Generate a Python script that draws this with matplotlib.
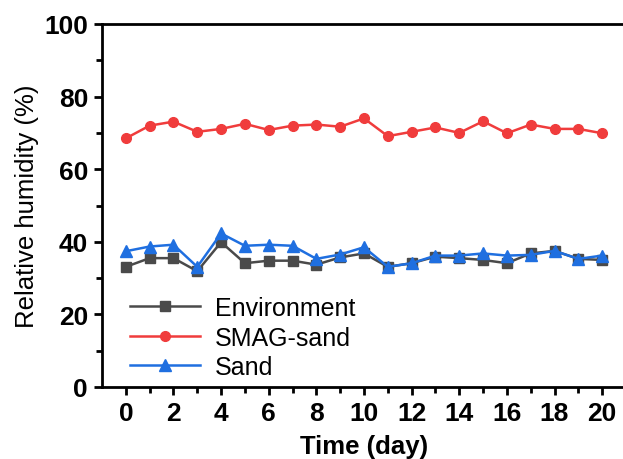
import numpy as np
import matplotlib.pyplot as plt

plt.rcParams['font.family'] = ['Liberation Sans', 'DejaVu Sans']

# Data
days = np.arange(0, 21)
env = [33.1, 35.5, 35.5, 31.9, 39.9, 34.1, 34.8, 34.8, 33.7, 35.7, 36.8,
       33.1, 34.1, 35.9, 35.5, 35.0, 34.1, 36.8, 37.5, 35.3, 35.0]
smag = [68.5, 72.0, 73.1, 70.3, 71.1, 72.5, 70.8, 72.0, 72.3, 71.7, 74.0,
        69.1, 70.3, 71.5, 70.0, 73.2, 69.9, 72.3, 71.1, 71.1, 69.9]
sand = [37.4, 38.7, 39.2, 33.1, 42.3, 38.9, 39.2, 38.9, 35.3, 36.5, 38.5,
        33.1, 34.1, 36.2, 36.2, 36.8, 36.2, 36.4, 37.5, 35.3, 36.2]

fig = plt.figure(figsize=(6.23, 4.60), dpi=100)
ax = fig.add_axes([102/623, 1 - 388/460, (626-102)/623, (388-25)/460])

ax.plot(days, env, color='#4a4a4a', marker='s', markersize=6.5, lw=1.8, label='Environment')
ax.plot(days, smag, color='#f03c3c', marker='o', markersize=7, lw=1.8, label='SMAG-sand')
ax.plot(days, sand, color='#1f6fe0', marker='^', markersize=8, lw=1.8, label='Sand')

ax.set_xlim(-1, 21)
ax.set_ylim(0, 100)
ax.set_xticks(np.arange(0, 21, 2))
ax.set_xticks(np.arange(0, 21, 1), minor=True)
ax.set_yticks(np.arange(0, 101, 20))
ax.set_yticks(np.arange(0, 101, 10), minor=True)

for s in ax.spines.values():
    s.set_linewidth(2)
ax.tick_params(which='major', direction='out', length=6, width=2, labelsize=19, pad=4)
ax.tick_params(which='minor', direction='out', length=4, width=2)
for lab in ax.get_xticklabels() + ax.get_yticklabels():
    lab.set_fontweight('bold')

ax.set_xlabel('Time (day)', fontsize=18.5, fontweight='bold', labelpad=6.5)
ax.set_ylabel('Relative humidity (%)', fontsize=18.5, labelpad=4)

ax.legend(loc='lower left', bbox_to_anchor=(0.01, -0.04), frameon=False,
          fontsize=18, handlelength=2.8, handletextpad=0.6, labelspacing=0.22)

fig.savefig('out.png', dpi=100)
